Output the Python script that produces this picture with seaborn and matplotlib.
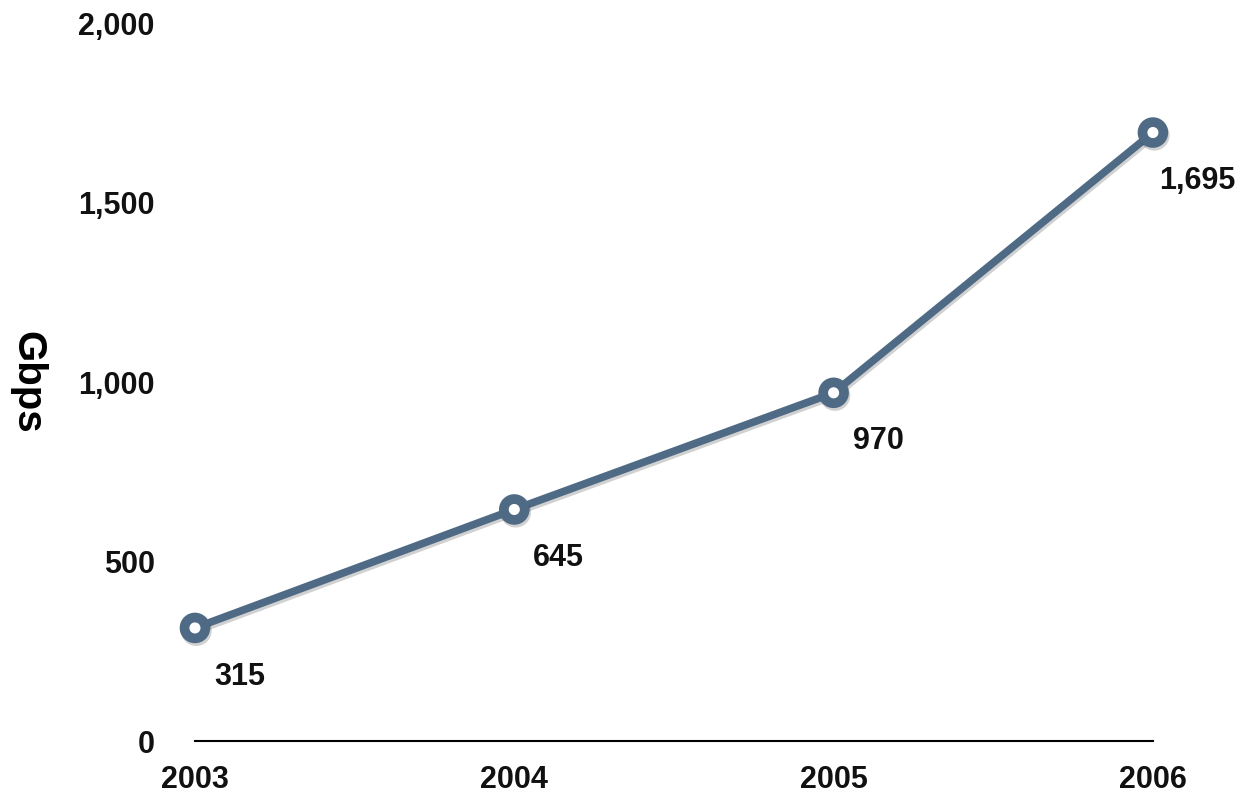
import matplotlib
matplotlib.use("Agg")
import matplotlib.pyplot as plt
import matplotlib.patheffects as pe
import seaborn as sns
import pandas as pd

years = [2003, 2004, 2005, 2006]
gbps = [315, 645, 970, 1695]
y_ticks = [0, 500, 1000, 1500, 2000]
y_tick_labels = ["0", "500", "1,000", "1,500", "2,000"]
value_labels = ["315", "645", "970", "1,695"]

sns.set_theme(style="white")
plt.rcParams["font.family"] = ["Liberation Sans", "DejaVu Sans"]
plt.rcParams["font.weight"] = "bold"

line_color = "#4f6a84"

fig = plt.figure(figsize=(12.57, 7.95), dpi=100)
ax = fig.add_axes([0.1551, 0.0679, 0.7621, 0.9031])

df = pd.DataFrame({"year": years, "Gbps": gbps})
sns.lineplot(
    data=df, x="year", y="Gbps", ax=ax,
    color=line_color, linewidth=5.5,
    marker="o", markersize=15, markerfacecolor="white",
    markeredgecolor=line_color, markeredgewidth=7,
    clip_on=False, zorder=3,
)
for ln in ax.lines:
    ln.set_path_effects([
        pe.SimpleLineShadow(offset=(1, -2), shadow_color="black", alpha=0.18),
        pe.Normal(),
    ])

for x, y, lab in zip(years, gbps, value_labels):
    ax.annotate(lab, (x, y), xytext=(32, -35), textcoords="offset points",
                ha="center", va="center", fontsize=22, fontweight="bold",
                color="#111111")

ax.set_xlim(2003, 2006)
ax.set_ylim(0, 2000)
ax.set_xticks(years)
ax.set_xticklabels([str(y) for y in years])
ax.set_yticks(y_ticks)
ax.set_yticklabels(y_tick_labels)
ax.tick_params(axis="both", length=0, labelsize=22, colors="#111111")
ax.tick_params(axis="y", pad=29)
ax.tick_params(axis="x", pad=17)
for lab in ax.get_xticklabels() + ax.get_yticklabels():
    lab.set_fontweight("bold")

for side in ["left", "right", "top"]:
    ax.spines[side].set_visible(False)
ax.spines["bottom"].set_color("black")
ax.spines["bottom"].set_linewidth(1.5)

ax.set_xlabel("")
ax.set_ylabel("Gbps", fontsize=29, fontweight="bold", rotation=270,
              labelpad=0, color="black", va="center", ha="center")
ax.yaxis.set_label_coords(-0.175, 0.5)
ax.grid(False)

fig.savefig("out.png", dpi=100, facecolor="white")
